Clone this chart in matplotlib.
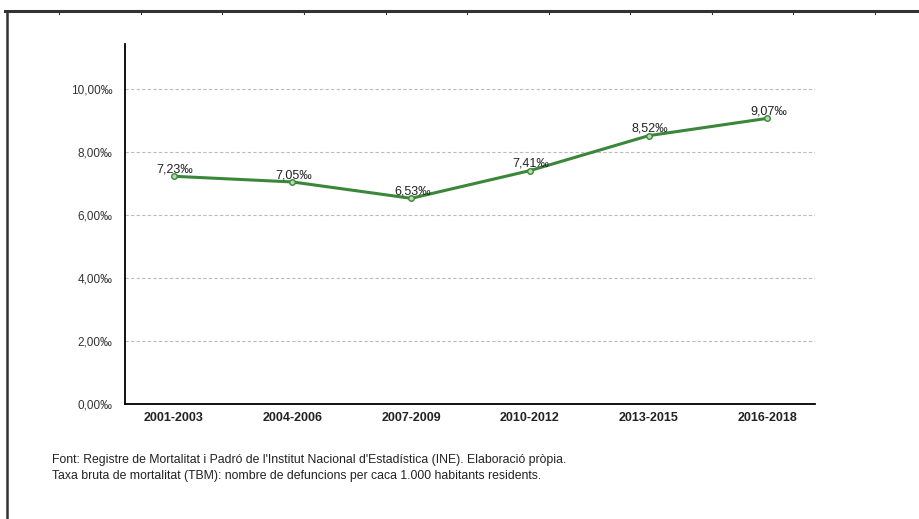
import matplotlib.pyplot as plt
from matplotlib.lines import Line2D

periods = ["2001-2003", "2004-2006", "2007-2009", "2010-2012", "2013-2015", "2016-2018"]
rates = [7.23, 7.05, 6.53, 7.41, 8.52, 9.07]
yticks = [0, 2, 4, 6, 8, 10]

notes = ["Font: Registre de Mortalitat i Padró de l'Institut Nacional d'Estadística (INE). Elaboració pròpia.",
         "Taxa bruta de mortalitat (TBM): nombre de defuncions per caca 1.000 habitants residents."]

def fmt(v):
    return ("%.2f" % v).replace(".", ",") + "‰"

plt.rcParams['font.family'] = ['Liberation Sans', 'DejaVu Sans']

fig = plt.figure(figsize=(9.19, 5.19), dpi=100)
ax = fig.add_axes([125/919, 1 - 404/519, 690/919, 360/519])

x = list(range(len(periods)))
ax.plot(x, rates, color='#3a873a', linewidth=2.2, marker='o', markersize=4,
        markerfacecolor='#b5dcae', markeredgecolor='#3a873a', markeredgewidth=1.0, zorder=3)
for i, v in enumerate(rates):
    ax.text(i + 0.01, v + 0.03, fmt(v), ha='center', va='bottom', fontsize=9, color='#222222')

ax.set_xlim(-0.41, 5.4)
ax.set_ylim(0, 11.43)
ax.set_yticks(yticks)
ax.set_yticklabels([fmt(t) for t in yticks], fontsize=8.5, color='#333333')
ax.set_xticks(x)
ax.set_xticklabels(periods, fontsize=9, fontweight='bold', color='#222222')
ax.tick_params(axis='both', length=0)
ax.tick_params(axis='y', pad=9)
ax.tick_params(axis='x', pad=6)
ax.yaxis.grid(True, linestyle=(0, (3, 2)), color='#bbbbbb', linewidth=0.8)
ax.set_axisbelow(True)
for s in ['top', 'right']:
    ax.spines[s].set_visible(False)
ax.spines['left'].set_linewidth(1.3)
ax.spines['bottom'].set_linewidth(1.3)

fig.text(52/919, 1 - 460/519, notes[0], fontsize=8.8, va='center', color='#222222')
fig.text(52/919, 1 - 476/519, notes[1], fontsize=8.8, va='center', color='#222222')

# page border
yt = 1 - 11/519
fig.add_artist(Line2D([5/919, 1], [yt, yt], color='#333333', linewidth=2.2))
fig.add_artist(Line2D([7/919, 7/919], [0, yt], color='#333333', linewidth=1.8))
for px in [59, 141, 222, 304, 386, 467, 549, 630, 712, 793, 875]:
    fig.add_artist(Line2D([px/919, px/919], [yt - 3/519, yt + 1/519], color='#333333', linewidth=0.8))

fig.savefig("out.png", dpi=100)
